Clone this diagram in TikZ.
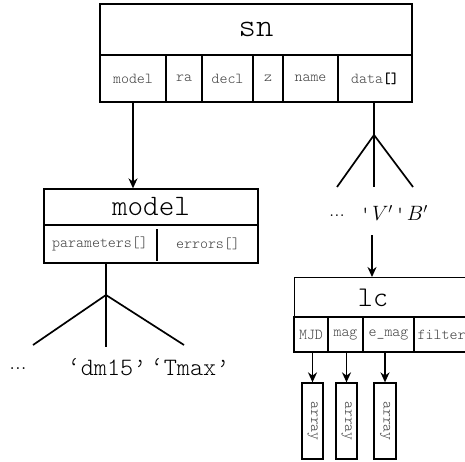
\documentclass[tikz,border=0pt]{standalone}
\usepackage{fontspec}
\setmonofont{Latin Modern Mono Light}
\usetikzlibrary{arrows.meta}
\newcommand{\fsz}[1]{\fontsize{#1}{#1}\selectfont}
\begin{document}
\begin{tikzpicture}[x=1pt,y=-1pt,line width=1.3pt,
  cellbox/.style={draw,rectangle,inner sep=0pt,font=\ttfamily\fsz{15.2}\color{black!75}},
  titlebox/.style={draw,rectangle,inner sep=0pt,font=\ttfamily},
  txt/.style={inner sep=0pt},
  arr/.style={-{Stealth[length=10pt,width=9pt]},line width=1.6pt},
  branch/.style={line width=1.7pt}]
\useasboundingbox (0,0) rectangle (465,462);
\clip (0,0) rectangle (465,462);

% ---- sn ----
\node[titlebox,minimum width=312pt,minimum height=51pt,font=\ttfamily\fsz{33}] (sn) at (256,29.5) {sn};
\node[cellbox,minimum width=66pt,minimum height=47pt] (snmodel) at (133,78.5) {model};
\node[cellbox,minimum width=36pt,minimum height=47pt] (snra) at (184,78.5) {ra};
\node[cellbox,minimum width=51pt,minimum height=47pt] (sndecl) at (227.5,78.5) {decl};
\node[cellbox,minimum width=30pt,minimum height=47pt] (snz) at (268,78.5) {z};
\node[cellbox,minimum width=55pt,minimum height=47pt] (snname) at (310.5,78.5) {name};
\node[cellbox,minimum width=74pt,minimum height=47pt] (sndata) at (375,78.5) {data\textcolor{black}{\bfseries[]}};

% ---- model ----
\node[titlebox,minimum width=214pt,minimum height=36pt,font=\ttfamily\fsz{29.7}] (mtitle) at (151,207) {model};
\node[draw,rectangle,minimum width=214pt,minimum height=38pt,inner sep=0pt] (mrow) at (151,244) {};
\node[txt,font=\ttfamily\fsz{15.2}\color{black!75}] (mpar) at (100,244) {parameters[]};
\node[txt,font=\ttfamily\fsz{15.2}\color{black!75}] (merr) at (208,244) {errors[]};
\coordinate (mdivtop) at (157,229);
\coordinate (mdivbot) at (157,261);
\draw[line width=1.9pt] (mdivtop) -- (mdivbot);

\draw[arr] (snmodel.south) -- (snmodel.south |- mtitle.north);

% data tree
\coordinate (dj) at (374,135);
\coordinate (d1) at (337,187);
\coordinate (d2) at (374,187);
\coordinate (d3) at (413,187);
\draw[branch] (sndata.south -| dj) -- (dj);
\draw[branch] (dj) -- (d1);
\draw[branch] (dj) -- (d2);
\draw[branch] (dj) -- (d3);
\node[txt] (ddots) at (337,216) {\fontsize{21}{21}\selectfont...};
\node[txt] (vb) at (394,213) {\fontsize{20}{20}\selectfont\texttt{'}\hspace{1.5pt}$V'$\hspace{2pt}\texttt{'}\hspace{1.5pt}$B'$};

% model tree
\coordinate (pj) at (106,295);
\coordinate (p1) at (33,345);
\coordinate (p2) at (106,347);
\coordinate (p3) at (184,345);
\draw[branch] (mrow.south -| pj) -- (pj);
\draw[branch] (pj) -- (p1);
\draw[branch] (pj) -- (p2);
\draw[branch] (pj) -- (p3);
\node[txt] (pdots) at (18,369) {\fontsize{23}{23}\selectfont...};
\node[txt,font=\ttfamily\fsz{25}] (pdm) at (107,367) {‘dm15’};
\node[txt,font=\ttfamily\fsz{25}] (ptm) at (190,367) {‘Tmax’};

% ---- lc ----
\node[draw,rectangle,inner sep=0pt,anchor=north west,minimum width=200pt,minimum height=40pt] (lc) at (294,277) {};
\node[txt,font=\ttfamily\fsz{28.6}] (lctxt) at (373,298) {lc};
\coordinate (lcin) at (372,235);
\draw[arr] (lcin) -- (lcin |- lc.north);

\node[cellbox,minimum width=34pt,minimum height=35pt] (lmjd) at (311,334.5) {MJD};
\node[cellbox,minimum width=35pt,minimum height=35pt] (lmag) at (345.5,334.5) {mag};
\node[cellbox,minimum width=51pt,minimum height=35pt] (lemag) at (388.5,334.5) {e\_mag};
\node[cellbox,minimum width=80pt,minimum height=35pt,anchor=west,text width=78pt,align=left] (lfilt) at (414,334.5) {\hspace*{2pt}filter};

\node[cellbox,minimum width=21pt,minimum height=76pt] (a1) at (312.5,421) {};
\node[cellbox,minimum width=21pt,minimum height=76pt] (a2) at (346.5,421) {};
\node[cellbox,minimum width=22pt,minimum height=76pt] (a3) at (385,421) {};
\node[txt,rotate=-90,font=\ttfamily\fsz{15.2}\color{black!75}] at (a1) {array};
\node[txt,rotate=-90,font=\ttfamily\fsz{15.2}\color{black!75}] at (a2) {array};
\node[txt,rotate=-90,font=\ttfamily\fsz{15.2}\color{black!75}] at (a3) {array};

\draw[arr] (a1.north |- lmjd.south) -- (a1.north);
\draw[arr] (a2.north |- lmag.south) -- (a2.north);
\draw[arr] (a3.north |- lemag.south) -- (a3.north);
\end{tikzpicture}
\end{document}
